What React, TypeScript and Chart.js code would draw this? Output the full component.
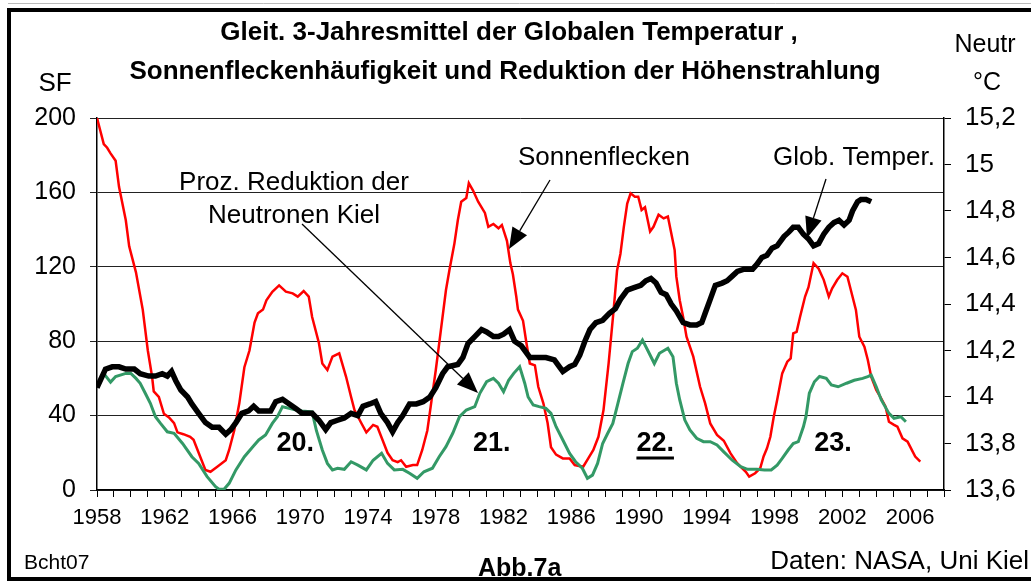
import React, { useEffect, useRef } from "react";
import { Chart, registerables } from "chart.js";

Chart.register(...registerables);

const FONT = "'Liberation Sans', Arial, Helvetica, sans-serif";

// Sonnenflecken (SF, left axis)
const sunspotYears = [
  1958.0, 1958.2, 1958.4, 1958.6, 1958.8, 1959.1, 1959.3, 1959.7, 1959.9, 1960.3, 1960.7, 1961.0, 1961.25, 1961.35,
  1961.65, 1961.95, 1962.25, 1962.55, 1962.75, 1963.1, 1963.5, 1963.7, 1964.0, 1964.4, 1964.7, 1965.1, 1965.6,
  1965.8, 1966.1, 1966.4, 1966.7, 1967.0, 1967.3, 1967.5, 1967.8, 1968.0, 1968.35, 1968.75, 1969.15, 1969.55,
  1969.85, 1970.2, 1970.5, 1970.7, 1971.1, 1971.3, 1971.6, 1971.9, 1972.3, 1972.7, 1973.0, 1973.2, 1973.6, 1973.9,
  1974.3, 1974.55, 1974.85, 1975.15, 1975.45, 1975.75, 1975.95, 1976.25, 1976.65, 1976.9, 1977.2, 1977.5, 1977.7,
  1978.0, 1978.3, 1978.6, 1978.8, 1979.1, 1979.3, 1979.5, 1979.8, 1979.95, 1980.2, 1980.5, 1980.9, 1981.1, 1981.4,
  1981.7, 1981.9, 1982.2, 1982.4, 1982.55, 1982.75, 1982.85, 1983.15, 1983.35, 1983.55, 1983.85, 1984.05, 1984.35,
  1984.6, 1984.8, 1985.1, 1985.5, 1985.9, 1986.2, 1986.7, 1987.0, 1987.3, 1987.6, 1987.9, 1988.2, 1988.5, 1988.7,
  1988.9, 1989.1, 1989.3, 1989.5, 1989.75, 1989.95, 1990.15, 1990.35, 1990.65, 1990.85, 1991.15, 1991.45, 1991.7,
  1991.9, 1992.1, 1992.2, 1992.4, 1992.6, 1992.8, 1993.2, 1993.6, 1993.9, 1994.2, 1994.6, 1995.0, 1995.4, 1995.8,
  1996.3, 1996.5, 1996.85, 1997.15, 1997.35, 1997.55, 1997.75, 1997.95, 1998.15, 1998.45, 1998.75, 1998.95, 1999.1,
  1999.3, 1999.5, 1999.8, 2000.0, 2000.3, 2000.6, 2000.9, 2001.2, 2001.4, 2001.7, 2002.0, 2002.3, 2002.5, 2002.8,
  2003.0, 2003.3, 2003.5, 2003.7, 2004.0, 2004.25, 2004.55, 2004.75, 2005.05, 2005.25, 2005.55, 2005.85, 2006.0,
  2006.3, 2006.6,
];
const sunspotValues = [
  200, 193, 186, 184, 181, 177, 163, 145, 131, 117, 97, 75, 61, 53,
  50, 41, 39, 36, 31, 30, 28.6, 27, 20, 10.8, 9.8, 12.5, 16,
  21.5, 32, 46.6, 66, 75, 90, 95, 97, 102, 106.6, 110, 106.6, 105.7,
  104, 107, 104, 93, 79, 68, 64.5, 71.7, 73.5, 61, 50, 43, 36, 31,
  35, 34, 27, 20, 16, 15, 16, 12.5, 13.4, 13.4, 21.5, 32, 45,
  64.5, 86, 107.5, 118, 132.6, 145, 155, 157, 165, 161, 155, 149, 141.5, 143,
  140.7, 142.5, 134, 122, 116, 104, 97, 91, 79, 68, 67, 55.5, 46.6,
  36, 23, 19, 17, 17, 13.4, 12.5, 17, 21.5, 28.6, 43, 68, 97, 118,
  127, 141.5, 154, 159.5, 157.7, 157.7, 150.5, 152, 139, 141.5, 148, 146, 147,
  138, 129, 114.7, 102, 93, 82.4, 71.7, 55.5, 46.6, 35.8, 29.6, 26.5, 19.7, 14.3,
  9.8, 7.2, 9, 11.7, 18, 22.4, 28.6, 39.4, 48.4, 62.7, 69, 70.8, 84.2,
  85, 93, 104, 109, 122, 119, 113, 104, 108.4, 113, 116.5, 114.7, 107.5, 96.8,
  82.4, 77, 70, 61, 53.8, 50, 44.8, 36.7, 35, 34, 27.8, 26, 23.3,
  18, 15.2,
];

// Proz. Reduktion der Neutronen Kiel (drawn on the SF scale)
const neutronYears = [
  1958.45, 1958.8, 1959.1, 1959.7, 1960.0, 1960.3, 1960.55, 1960.85, 1961.15, 1961.45, 1961.75, 1962.15, 1962.55,
  1963.05, 1963.6, 1964.0, 1964.5, 1965.0, 1965.2, 1965.5, 1965.8, 1966.2, 1966.7, 1967.2, 1967.55, 1967.95,
  1968.35, 1968.65, 1968.95, 1969.35, 1969.75, 1970.1, 1970.7, 1970.95, 1971.3, 1971.6, 1971.9, 1972.2, 1972.6,
  1973.0, 1973.4, 1973.9, 1974.3, 1974.8, 1975.15, 1975.55, 1976.05, 1976.45, 1976.9, 1977.3, 1977.8, 1978.2,
  1978.6, 1979.0, 1979.4, 1979.8, 1980.3, 1980.6, 1981.0, 1981.4, 1981.7, 1982.0, 1982.3, 1982.6, 1982.95, 1983.25,
  1983.45, 1983.75, 1984.1, 1984.5, 1984.8, 1985.1, 1985.5, 1985.9, 1986.25, 1986.65, 1986.95, 1987.25, 1987.55,
  1987.85, 1988.15, 1988.45, 1988.75, 1989.05, 1989.35, 1989.6, 1989.9, 1990.2, 1990.5, 1990.9, 1991.2, 1991.7,
  1992.0, 1992.2, 1992.4, 1992.7, 1993.0, 1993.4, 1993.8, 1994.2, 1994.6, 1995.0, 1995.5, 1996.0, 1996.4, 1996.95,
  1997.4, 1997.8, 1998.15, 1998.45, 1998.8, 1999.1, 1999.4, 1999.7, 1999.85, 2000.05, 2000.35, 2000.65, 2001.05,
  2001.35, 2001.75, 2002.25, 2002.7, 2003.2, 2003.5, 2003.7, 2004.0, 2004.3, 2004.75, 2005.05, 2005.45, 2005.75,
];
const neutronValues = [
  62, 58, 61, 62.7, 62.7, 60, 57.4, 52, 46.6, 39.4, 35.8, 31.3, 30.5,
  25, 17.9, 14.3, 7.2, 1.8, 0.4, 0.4, 3.6, 10.8, 17.9, 23.3, 26.9, 29.6,
  35.8, 39.4, 44.8, 43.9, 43, 42.5, 42, 32, 21.5, 14.3, 10.8, 11.7, 11.1,
  15.2, 13.4, 10.8, 16, 19.7, 14.3, 10.8, 11.1, 9, 6.3, 9.8, 11.7, 17.9,
  23.3, 30.5, 39.4, 43, 44.8, 52, 58.2, 60, 57.4, 52.8, 59, 62.7, 66.3, 57.4,
  50, 45.7, 44.8, 43.9, 41.2, 34, 26.9, 19.7, 15.2, 11.7, 6.3, 8, 14.3,
  25, 30.5, 35.8, 46.6, 57.4, 68, 74.4, 76.2, 80.6, 75.3, 68, 73.5, 76.2,
  71.7, 57.4, 48.4, 37.6, 32.3, 27.8, 26, 26, 24.2, 20.5, 16, 12.5, 11.1, 11.1,
  10.8, 10.8, 13.4, 17, 21.5, 25, 26, 34, 39.4, 52, 58.2, 61, 60,
  56.5, 55.5, 57.4, 59, 60, 61, 61.8, 55.5, 48.4, 41.2, 38.5, 39.4, 36.7,
];

// Glob. Temperatur (°C, right axis)
const tempYears = [
  1958.0, 1958.5, 1958.9, 1959.3, 1959.7, 1960.2, 1960.55, 1961.05, 1961.45, 1961.85, 1962.15, 1962.4, 1962.65,
  1962.95, 1963.35, 1963.6, 1964.0, 1964.4, 1964.8, 1965.2, 1965.6, 1965.9, 1966.2, 1966.55, 1966.95, 1967.25,
  1967.55, 1967.95, 1968.25, 1968.55, 1968.95, 1969.35, 1969.75, 1970.1, 1970.7, 1971.1, 1971.5, 1971.8, 1972.2,
  1972.6, 1973.0, 1973.4, 1973.7, 1974.1, 1974.45, 1974.75, 1975.15, 1975.45, 1975.75, 1976.05, 1976.45, 1976.85,
  1977.25, 1977.65, 1978.0, 1978.4, 1978.7, 1979.3, 1979.6, 1979.9, 1980.3, 1980.7, 1981.0, 1981.4, 1981.7, 1982.0,
  1982.35, 1982.65, 1983.05, 1983.55, 1984.05, 1984.5, 1985.0, 1985.3, 1985.5, 1985.9, 1986.2, 1986.5, 1986.8,
  1987.1, 1987.45, 1987.85, 1988.25, 1988.6, 1988.9, 1989.3, 1989.7, 1990.1, 1990.4, 1990.7, 1991.0, 1991.3,
  1991.6, 1991.9, 1992.2, 1992.6, 1993.0, 1993.4, 1993.7, 1993.9, 1994.2, 1994.5, 1994.9, 1995.2, 1995.5, 1995.8,
  1996.2, 1996.7, 1996.95, 1997.25, 1997.55, 1997.85, 1998.15, 1998.55, 1998.85, 1999.1, 1999.4, 1999.7, 2000.0,
  2000.3, 2000.6, 2000.9, 2001.2, 2001.5, 2001.8, 2002.1, 2002.4, 2002.6, 2002.9, 2003.1, 2003.4, 2003.7,
];
const tempValues = [
  14.04, 14.12, 14.13, 14.13, 14.12, 14.12, 14.10, 14.09, 14.09, 14.10, 14.09, 14.11, 14.07,
  14.03, 14.00, 13.97, 13.93, 13.89, 13.87, 13.87, 13.84, 13.86, 13.89, 13.93, 13.94, 13.96,
  13.94, 13.94, 13.94, 13.98, 13.99, 13.97, 13.95, 13.93, 13.93, 13.90, 13.86, 13.89, 13.90,
  13.91, 13.93, 13.92, 13.96, 13.97, 13.98, 13.93, 13.89, 13.85, 13.89, 13.92, 13.97, 13.97,
  13.98, 14.00, 14.04, 14.10, 14.13, 14.14, 14.17, 14.23, 14.26, 14.29, 14.28, 14.26, 14.26, 14.27,
  14.29, 14.24, 14.22, 14.17, 14.17, 14.17, 14.16, 14.13, 14.11, 14.13, 14.14, 14.18, 14.24,
  14.29, 14.32, 14.33, 14.36, 14.38, 14.42, 14.46, 14.47, 14.48, 14.50, 14.51, 14.49, 14.45,
  14.44, 14.40, 14.37, 14.32, 14.31, 14.31, 14.32, 14.36, 14.42, 14.48, 14.49, 14.50, 14.52, 14.54,
  14.55, 14.55, 14.57, 14.60, 14.61, 14.64, 14.65, 14.69, 14.71, 14.73, 14.73, 14.70, 14.68,
  14.65, 14.66, 14.70, 14.73, 14.75, 14.76, 14.74, 14.76, 14.80, 14.84, 14.85, 14.85, 14.84,
];

const xLabelYears = [1958, 1962, 1966, 1970, 1974, 1978, 1982, 1986, 1990, 1994, 1998, 2002, 2006];
const cycleLabels = ["20.", "21.", "22.", "23."];

const toPoints = (xs: number[], ys: number[]) => xs.map((x, i) => ({ x, y: ys[i] }));

function drawArrow(ctx: CanvasRenderingContext2D, x1: number, y1: number, x2: number, y2: number, headLen: number, headW: number) {
  const ang = Math.atan2(y2 - y1, x2 - x1);
  const bx = x2 - Math.cos(ang) * headLen;
  const by = y2 - Math.sin(ang) * headLen;
  ctx.save();
  ctx.strokeStyle = "#000";
  ctx.fillStyle = "#000";
  ctx.lineWidth = 1.3;
  ctx.beginPath();
  ctx.moveTo(x1, y1);
  ctx.lineTo(bx, by);
  ctx.stroke();
  ctx.beginPath();
  ctx.moveTo(x2, y2);
  ctx.lineTo(bx + Math.sin(ang) * headW / 2, by - Math.cos(ang) * headW / 2);
  ctx.lineTo(bx - Math.sin(ang) * headW / 2, by + Math.cos(ang) * headW / 2);
  ctx.closePath();
  ctx.fill();
  ctx.restore();
}

const annotationPlugin = {
  id: "annotations",
  afterDraw(chart: any) {
    const ctx: CanvasRenderingContext2D = chart.ctx;
    const xs = chart.scales.x;
    const ys = chart.scales.y;
    ctx.save();
    // frame
    ctx.strokeStyle = "#bbb";
    ctx.lineWidth = 1;
    ctx.beginPath();
    ctx.moveTo(8, 3.5);
    ctx.lineTo(1031, 3.5);
    ctx.stroke();
    ctx.strokeStyle = "#000";
    ctx.lineWidth = 4;
    ctx.strokeRect(9, 10, 1100, 569);

    ctx.fillStyle = "#000";
    ctx.textBaseline = "middle";
    ctx.textAlign = "center";
    // title
    ctx.font = `bold 26px ${FONT}`;
    ctx.fillText("Gleit. 3-Jahresmittel der Globalen Temperatur ,", 509, 33);
    ctx.fillText("Sonnenfleckenhäufigkeit und Reduktion der Höhenstrahlung", 505, 72);

    // axis titles
    ctx.font = `26px ${FONT}`;
    ctx.fillText("SF", 55, 84);
    ctx.font = `25px ${FONT}`;
    ctx.fillText("Neutr", 985, 45);
    ctx.fillText("°C", 987, 83);

    // series labels
    ctx.font = `26px ${FONT}`;
    ctx.fillText("Proz. Reduktion der", 294, 183);
    ctx.fillText("Neutronen Kiel", 294, 216);
    ctx.fillText("Sonnenflecken", 604, 158);
    ctx.fillText("Glob. Temper.", 854, 158);

    // cycle numbers
    ctx.font = `bold 27px ${FONT}`;
    const cyclePos = [1969.7, 1981.3, 1990.95, 2001.45];
    cycleLabels.forEach((t, i) => {
      const px = xs.getPixelForValue(cyclePos[i]);
      const py = ys.getPixelForValue(25);
      ctx.fillText(t, px, py);
      if (t === "22.") {
        const w = ctx.measureText(t).width;
        ctx.fillRect(px - w / 2, py + 13, w, 3);
      }
    });

    // footer
    ctx.textAlign = "left";
    ctx.font = `21px ${FONT}`;
    ctx.fillText("Bcht07", 24, 563);
    ctx.font = `bold 25px ${FONT}`;
    ctx.fillText("Abb.7a", 478, 569);
    ctx.font = `26px ${FONT}`;
    ctx.textAlign = "right";
    ctx.fillText("Daten: NASA, Uni Kiel", 1029, 562);

    // arrows
    drawArrow(ctx, 302, 224, 478, 393, 21, 17);
    drawArrow(ctx, 550, 180, 509, 249, 21, 17);
    drawArrow(ctx, 826, 179, 807, 238, 21, 17);
    ctx.restore();
  },
};

export default function App() {
  const canvasRef = useRef<HTMLCanvasElement | null>(null);

  useEffect(() => {
    if (!canvasRef.current) return;
    const chart = new Chart(canvasRef.current, {
      type: "line",
      data: {
        datasets: [
          {
            label: "Glob. Temper.",
            data: toPoints(tempYears, tempValues),
            yAxisID: "yT",
            borderColor: "#000000",
            borderWidth: 5.5,
            pointRadius: 0,
            tension: 0,
            order: 0,
          },
          {
            label: "Proz. Reduktion der Neutronen Kiel",
            data: toPoints(neutronYears, neutronValues),
            yAxisID: "y",
            borderColor: "#339966",
            borderWidth: 3,
            pointRadius: 0,
            tension: 0,
            order: 1,
          },
          {
            label: "Sonnenflecken",
            data: toPoints(sunspotYears, sunspotValues),
            yAxisID: "y",
            borderColor: "#FF0000",
            borderWidth: 2.5,
            pointRadius: 0,
            tension: 0,
            order: 2,
          },
        ],
      },
      options: {
        animation: false,
        responsive: false,
        devicePixelRatio: 1,
        layout: { padding: { top: 118, left: 0, right: 0, bottom: 0 } },
        plugins: { legend: { display: false }, tooltip: { enabled: false }, title: { display: false } },
        scales: {
          x: {
            type: "linear",
            min: 1958,
            max: 2008,
            ticks: {
              stepSize: 1,
              autoSkip: false,
              maxRotation: 0,
              minRotation: 0,
              padding: 8,
              color: "#000",
              font: { family: FONT, size: 22 },
              callback: (v: any) => (xLabelYears.includes(Math.round(Number(v))) ? String(Math.round(Number(v))) : ""),
            },
            grid: { drawOnChartArea: false, drawTicks: true, tickLength: 7, color: "#000", lineWidth: 1 },
            border: { color: "#000", width: 1.5 },
            afterFit: (s: any) => {
              s.height = 91;
            },
          },
          y: {
            position: "left",
            min: 0,
            max: 200,
            ticks: { stepSize: 40, padding: 14, color: "#000", font: { family: FONT, size: 25 } },
            grid: { color: "#222", lineWidth: 1, tickLength: 7 },
            border: { color: "#000", width: 1.5 },
            afterFit: (s: any) => {
              s.width = 97;
            },
          },
          yT: {
            position: "right",
            min: 13.6,
            max: 15.2,
            ticks: {
              stepSize: 0.2,
              padding: 14,
              color: "#000",
              font: { family: FONT, size: 26 },
              callback: (v: any) => (Math.round(Number(v) * 10) / 10).toString().replace(".", ","),
            },
            grid: { drawOnChartArea: false, tickLength: 7, color: "#000", lineWidth: 1 },
            border: { color: "#000", width: 1.5 },
            afterFit: (s: any) => {
              s.width = 87;
            },
          },
        },
      } as any,
      plugins: [annotationPlugin],
    });
    return () => chart.destroy();
  }, []);

  return (
    <div style={{ position: "fixed", left: 0, top: 0, width: 1031, height: 581, background: "#fff" }}>
      <canvas ref={canvasRef} width={1031} height={581} />
    </div>
  );
}
